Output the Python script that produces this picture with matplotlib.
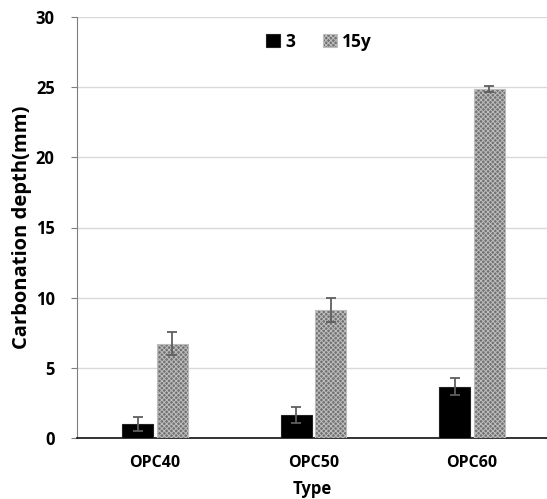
import numpy as np
import matplotlib
matplotlib.use("Agg")
import matplotlib.pyplot as plt

plt.rcParams.update({
    "font.family": ["Open Sans", "DejaVu Sans"],
    "font.weight": "bold",
    "font.size": 11,
    "hatch.linewidth": 0.7,
    "hatch.color": "#a6a6a6",
})

types = ["OPC40", "OPC50", "OPC60"]
series = ["3", "15y"]
depth_3 = [1.0, 1.65, 3.65]
err_3 = [0.5, 0.55, 0.62]
depth_15y = [6.7, 9.15, 24.85]
err_15y = [0.82, 0.85, 0.22]

fig = plt.figure(figsize=(5.47, 4.99), dpi=100)
ax = fig.add_axes([77 / 547, 1 - 438 / 499, 470 / 547, (438 - 17) / 499])

x = np.arange(len(types))
w = 0.196
off = 0.11

ax.bar(x - off, depth_3, w, color="black", edgecolor="#222222", lw=0.8,
       label=series[0], zorder=3)
ax.bar(x + off, depth_15y, w, color="#727272", edgecolor="#bdbdbd", lw=0.8,
       hatch="xxxxxxx", label=series[1], zorder=3)

eb = dict(fmt="none", ecolor="#5f5f5f", elinewidth=1.3, capsize=3.5,
          capthick=1.3, zorder=4)
ax.errorbar(x - off, depth_3, yerr=err_3, **eb)
ax.errorbar(x + off, depth_15y, yerr=err_15y, **eb)

ax.set_xlim(-0.492, 2.473)
ax.set_ylim(0, 30)
ax.set_yticks(np.arange(0, 31, 5))
ax.set_xticks(x)
ax.set_xticklabels(types)
ax.tick_params(axis="x", length=0, pad=12, labelsize=11.5)
ax.tick_params(axis="y", length=4, color="#7f7f7f", pad=12, labelsize=12)
ax.grid(axis="y", color="#d9d9d9", lw=1, zorder=0)
ax.set_axisbelow(True)

for s in ("top", "right"):
    ax.spines[s].set_visible(False)
ax.spines["left"].set_color("#7f7f7f")
ax.spines["bottom"].set_color("#222222")
ax.spines["bottom"].set_linewidth(1.3)

ax.set_xlabel("Type", fontsize=12, fontweight="bold", labelpad=7)
ax.set_ylabel("Carbonation depth(mm)", fontsize=14.5, fontweight="bold", labelpad=3)

ax.legend(loc="upper center", bbox_to_anchor=(0.515, 1.0), ncol=2, frameon=False,
          fontsize=12.5, handlelength=0.8, handleheight=0.8, handletextpad=0.3,
          columnspacing=1.6)

fig.savefig("out.png", dpi=100)
